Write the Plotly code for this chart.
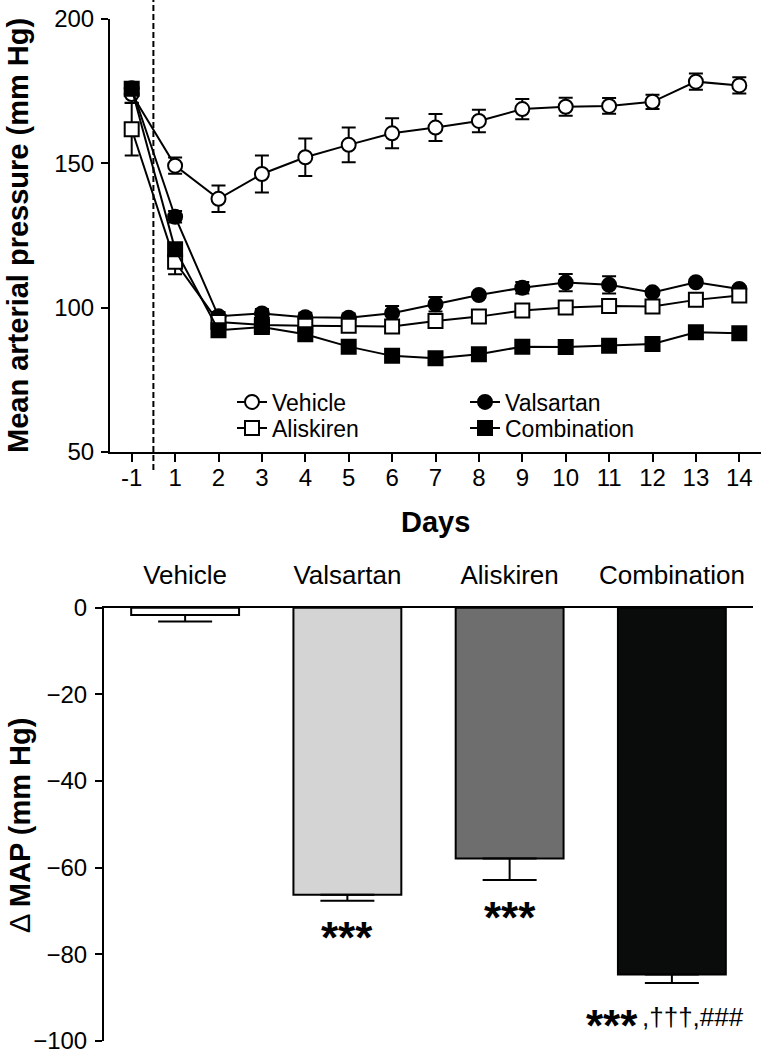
import plotly.graph_objects as go

# ---------------- data ----------------
days = ["-1", "1", "2", "3", "4", "5", "6", "7", "8", "9", "10", "11", "12", "13", "14"]

vehicle = [174.0, 149.2, 137.7, 146.3, 152.1, 156.4, 160.4, 162.4, 164.7, 168.8, 169.6, 169.9, 171.3, 178.3, 177.0]
vehicle_err = [3.0, 2.8, 4.6, 6.4, 6.5, 6.0, 5.2, 4.7, 3.9, 3.5, 3.1, 2.7, 2.5, 2.8, 2.8]

valsartan = [176.0, 131.5, 97.0, 98.0, 96.7, 96.5, 98.1, 101.2, 104.4, 106.9, 108.7, 107.9, 105.3, 108.8, 106.5]
valsartan_err = [2.0, 2.0, 1.5, 1.5, 1.5, 1.5, 2.5, 2.5, 1.0, 2.0, 3.0, 3.0, 1.0, 1.0, 1.0]

aliskiren = [161.8, 115.9, 95.0, 94.0, 93.7, 93.7, 93.5, 95.4, 96.9, 99.0, 100.1, 100.6, 100.4, 102.7, 104.2]
aliskiren_err = [9.1, 4.3, 1.5, 1.5, 1.5, 1.5, 1.5, 1.5, 1.5, 1.5, 1.5, 1.5, 1.5, 2.0, 1.5]

combination = [175.8, 120.2, 92.2, 93.3, 90.8, 86.5, 83.3, 82.5, 83.9, 86.5, 86.4, 86.8, 87.4, 91.5, 91.1]
combination_err = [1.5, 2.0, 1.0, 1.0, 1.0, 1.0, 1.0, 1.0, 1.0, 1.0, 1.0, 1.0, 1.0, 1.0, 1.0]

y_ticks_top = [50, 100, 150, 200]

groups = ["Vehicle", "Valsartan", "Aliskiren", "Combination"]
delta_map = [-1.7, -66.3, -57.9, -84.7]
delta_map_err = [1.5, 1.4, 5.0, 2.0]
sig_stars = ["", "***", "***", "***"]
sig_extra = ["", "", "", ",†††,###"]

y_ticks_bottom = [0, -20, -40, -60, -80, -100]

# ---------------- style ----------------
FONT = "Liberation Sans, Arial, Helvetica, sans-serif"
W, H = 761, 1050
BLACK = "#000000"

def px_x(p):
    return p / W

def px_y(p):
    return 1 - p / H

fig = go.Figure()

series = [
    ("Vehicle", vehicle, vehicle_err, "circle", "white", "legend"),
    ("Valsartan", valsartan, valsartan_err, "circle", BLACK, "legend2"),
    ("Aliskiren", aliskiren, aliskiren_err, "square", "white", "legend3"),
    ("Combination", combination, combination_err, "square", BLACK, "legend4"),
]

for name, vals, errs, sym, fill, lg in series:
    fig.add_trace(go.Scatter(
        x=days, y=vals, name=name, mode="lines+markers",
        xaxis="x", yaxis="y", legend=lg,
        line=dict(color=BLACK, width=2),
        marker=dict(symbol=sym, size=14, color=fill, line=dict(color=BLACK, width=2)),
        error_y=dict(type="data", array=errs, visible=True, color=BLACK,
                     thickness=2, width=7),
    ))

fig.add_trace(go.Bar(
    x=groups, y=delta_map, xaxis="x2", yaxis="y2", showlegend=False,
    marker=dict(color=["#ffffff", "#d4d4d4", "#6e6e6e", "#0a0c0b"],
                line=dict(color=BLACK, width=2)),
    width=0.665,
    error_y=dict(type="data", symmetric=False, array=[0] * len(groups),
                 arrayminus=delta_map_err, visible=True, color=BLACK,
                 thickness=2, width=27),
))

axis_common = dict(
    showline=True, linecolor=BLACK, linewidth=2, showgrid=False, zeroline=False,
    ticks="outside", tickcolor=BLACK, tickwidth=2, automargin=False,
    ticklabeloverflow="allow",
    tickfont=dict(family=FONT, size=24, color=BLACK),
)

fig.update_layout(
    width=W, height=H,
    margin=dict(l=0, r=0, t=0, b=0, pad=0),
    paper_bgcolor="white", plot_bgcolor="white",
    font=dict(family=FONT, color=BLACK),
    xaxis=dict(axis_common, domain=[px_x(110), 1.0], anchor="y", type="category",
               categoryorder="array", categoryarray=days, range=[-0.5, 14.5],
               ticklen=8, ticklabelstandoff=-5),
    yaxis=dict(axis_common, domain=[px_y(452), px_y(19)], anchor="x", range=[50, 200],
               tickvals=y_ticks_top, ticklen=7, ticklabelstandoff=2),
    xaxis2=dict(axis_common, domain=[px_x(104), px_x(753)], anchor="y2", type="category",
                categoryorder="array", categoryarray=groups, range=[-0.5, 3.5],
                side="top", ticks="", tickfont=dict(family=FONT, size=26, color=BLACK),
                ticklabelstandoff=11),
    yaxis2=dict(axis_common, domain=[px_y(1040.7), px_y(607.7)], anchor="x2",
                range=[-100, 0], tickvals=y_ticks_bottom, ticklen=7, ticklabelstandoff=3),
)

leg_common = dict(xanchor="left", yanchor="middle", bgcolor="rgba(0,0,0,0)",
                  font=dict(family=FONT, size=23, color=BLACK), itemwidth=30)
fig.update_layout(
    legend=dict(leg_common, x=px_x(232), y=px_y(402)),
    legend2=dict(leg_common, x=px_x(465), y=px_y(402)),
    legend3=dict(leg_common, x=px_x(232), y=px_y(428)),
    legend4=dict(leg_common, x=px_x(465), y=px_y(428)),
)

# dashed treatment-start line
fig.add_shape(type="line", xref="x", yref="paper", x0=0.5, x1=0.5,
              y0=px_y(470), y1=1.0, line=dict(color=BLACK, width=2, dash="6px,3px"))

# axis titles
fig.add_annotation(text="<b>Mean arterial pressure (mm Hg)</b>", xref="paper", yref="paper",
                   x=px_x(18), y=px_y(236), textangle=-90, showarrow=False,
                   xanchor="center", yanchor="middle",
                   font=dict(family=FONT, size=29, color=BLACK))
fig.add_annotation(text="<b>Days</b>", xref="paper", yref="paper",
                   x=px_x(435), y=px_y(522), showarrow=False,
                   xanchor="center", yanchor="middle",
                   font=dict(family=FONT, size=29, color=BLACK))
fig.add_annotation(text="Δ <b>MAP (mm Hg)</b>", xref="paper", yref="paper",
                   x=px_x(20), y=px_y(826), textangle=-90, showarrow=False,
                   xanchor="center", yanchor="middle",
                   font=dict(family=FONT, size=29, color=BLACK))

# significance markers
for g, v, e, s, extra in zip(groups, delta_map, delta_map_err, sig_stars, sig_extra):
    if s:
        fig.add_annotation(text="<b>" + s + "</b>", xref="x2", yref="y2", x=g, y=v - e,
                           xshift=-60 if extra else 0, yshift=-42 if extra else -37,
                           showarrow=False, xanchor="center", yanchor="middle",
                           font=dict(family=FONT, size=44, color=BLACK))
    if extra:
        fig.add_annotation(text=extra, xref="x2", yref="y2", x=g, y=v - e,
                           xshift=-32, yshift=-34, showarrow=False,
                           xanchor="left", yanchor="middle",
                           font=dict(family=FONT, size=26, color=BLACK))

fig.write_html("out.html", config={"displayModeBar": False},
               post_script="document.body.style.margin='0px';")
